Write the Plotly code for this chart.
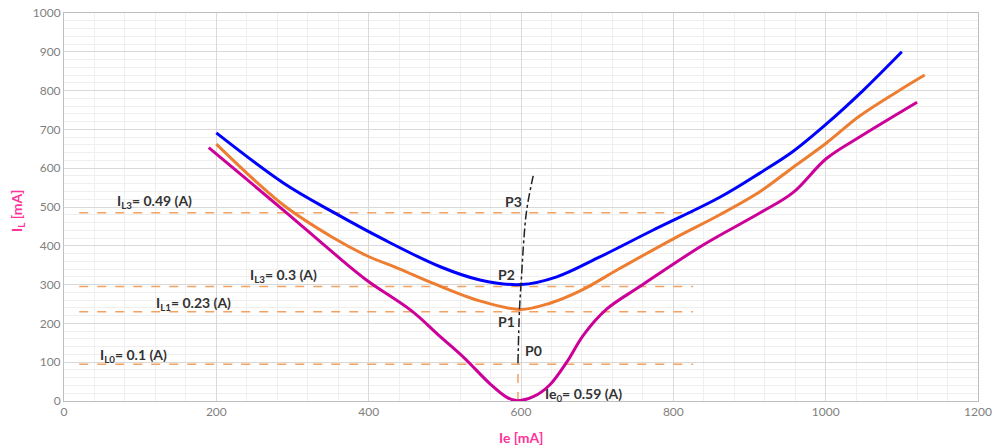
import plotly.graph_objects as go

# Curve data (Ie [mA] -> IL [mA])
blue_x = [200, 288, 354, 419, 494, 546, 600, 647, 700, 773, 861, 914, 957, 1001, 1049, 1100]
blue_y = [691, 562, 486, 417, 346, 312, 300, 320, 368, 440, 525, 588, 643, 714, 800, 900]

orange_x = [200, 288, 354, 397, 441, 485, 546, 599, 638, 677, 730, 800, 861, 914, 957, 1001, 1045, 1098, 1130]
orange_y = [662, 505, 420, 375, 340, 303, 258, 236, 252, 283, 342, 418, 480, 540, 602, 665, 735, 802, 840]

magenta_x = [190, 288, 354, 397, 456, 494, 526, 559, 581, 594, 616, 638, 660, 682, 712, 756, 839, 914, 957, 1001, 1045, 1120]
magenta_y = [653, 492, 381, 312, 233, 166, 110, 45, 10, 1, 11, 42, 100, 170, 236, 295, 402, 485, 537, 625, 681, 770]

# P-point locus (dash-dot)
locus_x = [596, 598, 600, 607, 616]
locus_y = [97, 235, 300, 485, 580]

# Horizontal reference levels [mA]
level_vals = [485, 295, 230, 95]
level_x0, level_x1 = 20, 826
level_labels = ["I<sub>L3</sub>= 0.49 (A)", "I<sub>L3</sub>= 0.3 (A)", "I<sub>L1</sub>= 0.23 (A)", "I<sub>L0</sub>= 0.1 (A)"]
label_x = [119, 288, 170, 91]
label_y = [514, 323, 252, 118]

ie0 = 596

point_names = ["P3", "P2", "P1", "P0"]
point_x = [590, 581, 581, 616]
point_y = [514, 325, 204, 131]

fig = go.Figure()

for lv in level_vals:
    fig.add_trace(go.Scatter(x=[level_x0, level_x1], y=[lv, lv], mode="lines",
                             line=dict(color="#f4a262", width=1.5, dash="dash"),
                             showlegend=False, hoverinfo="skip"))
fig.add_trace(go.Scatter(x=[ie0, ie0], y=[0, level_vals[-1]], mode="lines",
                         line=dict(color="#f4a262", width=1.5, dash="dash"),
                         showlegend=False, hoverinfo="skip"))

fig.add_trace(go.Scatter(x=magenta_x, y=magenta_y, mode="lines", line=dict(color="#cc0099", width=3, shape="spline", smoothing=1.0), showlegend=False))
fig.add_trace(go.Scatter(x=orange_x, y=orange_y, mode="lines", line=dict(color="#ed7d31", width=3, shape="spline", smoothing=1.0), showlegend=False))
fig.add_trace(go.Scatter(x=blue_x, y=blue_y, mode="lines", line=dict(color="#0000ff", width=3, shape="spline", smoothing=1.0), showlegend=False))

fig.add_trace(go.Scatter(x=locus_x, y=locus_y, mode="lines",
                         line=dict(color="#222222", width=1.5, dash="dashdot", shape="spline"),
                         showlegend=False, hoverinfo="skip"))

txt_font = dict(family="Lato, Open Sans, sans-serif", size=14, color="#333333")
for t, x, y in zip(level_labels, label_x, label_y):
    fig.add_annotation(x=x, y=y, text="<b>" + t + "</b>", showarrow=False, font=txt_font)
for t, x, y in zip(point_names, point_x, point_y):
    fig.add_annotation(x=x, y=y, text="<b>" + t + "</b>", showarrow=False, font=txt_font)
fig.add_annotation(x=629, y=16, text="<b>Ie<sub>0</sub>= 0.59 (A)</b>", showarrow=False,
                   xanchor="left", font=txt_font)

# Axis titles as annotations
title_font = dict(family="Lato, Open Sans, sans-serif", size=14, color="#ff3399")
fig.add_annotation(x=0.5, y=-0.093, xref="paper", yref="paper", text="<b>Ie [mA]</b>",
                   showarrow=False, font=title_font, yanchor="middle")
fig.add_annotation(x=-0.0503, y=0.49, xref="paper", yref="paper", text="<b>I<sub>L</sub> [mA]</b>",
                   showarrow=False, font=title_font, textangle=-90, xanchor="center")

fig.update_layout(
    width=992, height=448,
    margin=dict(l=64, r=14, t=13, b=47),
    plot_bgcolor="white", paper_bgcolor="white",
    font=dict(family="Lato, Open Sans, sans-serif"),
    xaxis=dict(range=[0, 1200], dtick=200, showgrid=True, gridcolor="#d9d9d9", gridwidth=1,
               minor=dict(dtick=40, showgrid=True, gridcolor="#efefef"),
               showline=True, linecolor="#bfbfbf", mirror=True, zeroline=False,
               tickfont=dict(size=12, color="#7f7f7f"), ticks="", automargin=False),
    yaxis=dict(range=[0, 1000], dtick=100, showgrid=True, gridcolor="#d9d9d9", gridwidth=1,
               minor=dict(dtick=20, showgrid=True, gridcolor="#efefef"),
               showline=True, linecolor="#bfbfbf", mirror=True, zeroline=False,
               tickfont=dict(size=12, color="#7f7f7f"), ticks="", automargin=False),
)

fig.write_html("out.html", config={"displayModeBar": False},
               post_script="document.body.style.margin='0';document.body.style.overflow='hidden';")
